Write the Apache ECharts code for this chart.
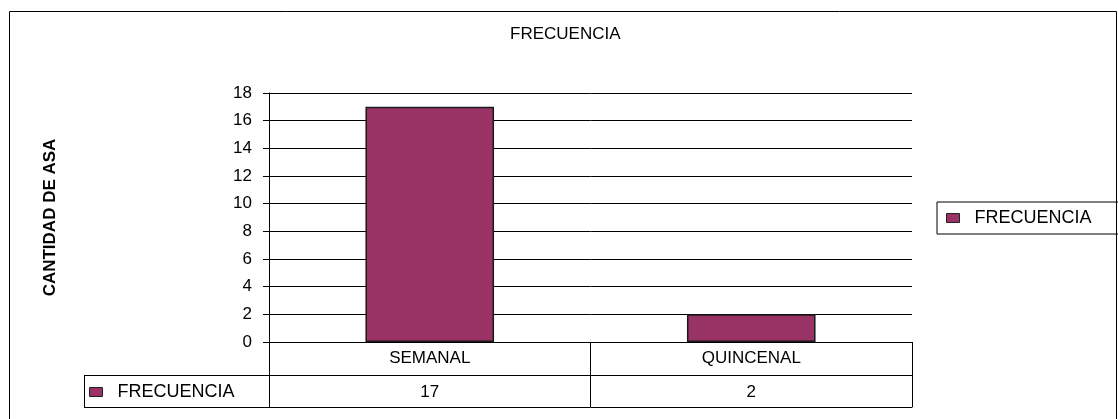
<!DOCTYPE html>
<html>
<head>
<meta charset="utf-8">
<script src="https://cdn.jsdelivr.net/npm/echarts@6/dist/echarts.min.js"></script>
<style>
  html, body { margin: 0; padding: 0; background: #fff; }
  #chart { width: 1118px; height: 419px; }
</style>
</head>
<body>
<div id="chart"></div>
<script>
const categories = ['SEMANAL', 'QUINCENAL']
const frecuencia = [17, 2]
const yTicks = { min: 0, max: 18, interval: 2 }
const seriesName = 'FRECUENCIA'
const titleText = 'FRECUENCIA'
const yName = 'CANTIDAD DE ASA'

const chart = echarts.init(document.getElementById('chart'))
const font = 'Liberation Sans, Arial, sans-serif'
const barColor = '#993366'

const option = {
  animation: false,
  backgroundColor: '#fff',
  textStyle: { fontFamily: font, color: '#000' },
  title: {
    text: titleText,
    left: 510,
    top: 26,
    padding: 0,
    textStyle: { fontSize: 17, fontWeight: 'normal', color: '#000', fontFamily: font }
  },
  legend: [
    {
      data: [seriesName],
      left: 937,
      top: 202,
      padding: [7, 40, 7, 9],
      borderColor: '#000',
      borderWidth: 1,
      icon: 'rect',
      itemWidth: 13,
      itemHeight: 9,
      itemStyle: { borderColor: '#222', borderWidth: 1 },
      formatter: '  {name}',
      textStyle: { fontSize: 18, color: '#000', fontFamily: font },
      selectedMode: false
    },
    {
      // legend key inside the data table
      data: [seriesName],
      left: 89,
      top: 383,
      padding: 0,
      icon: 'rect',
      itemWidth: 13,
      itemHeight: 9,
      itemStyle: { borderColor: '#222', borderWidth: 1 },
      formatter: '  {name}',
      textStyle: { fontSize: 18, color: '#000', fontFamily: font },
      selectedMode: false
    }
  ],
  grid: { left: 269, right: 206, top: 93, bottom: 77, containLabel: false },
  xAxis: [
    {
      type: 'category',
      data: categories,
      position: 'bottom',
      axisLine: { show: true, lineStyle: { color: '#000', width: 1 } },
      axisTick: { show: true, length: 65, lineStyle: { color: '#000', width: 1 } },
      axisLabel: { margin: 8, fontSize: 17, color: '#000', fontFamily: font },
      splitLine: { show: false }
    },
    {
      type: 'category',
      data: frecuencia.map(String),
      position: 'bottom',
      offset: 33,
      axisLine: { show: true, lineStyle: { color: '#000', width: 1 } },
      axisTick: { show: false },
      axisLabel: { margin: 9, fontSize: 17, color: '#000', fontFamily: font },
      splitLine: { show: false }
    },
    {
      type: 'category',
      data: categories,
      position: 'bottom',
      offset: 65,
      axisLine: { show: true, lineStyle: { color: '#000', width: 1 } },
      axisTick: { show: false },
      axisLabel: { show: false },
      splitLine: { show: false }
    }
  ],
  yAxis: {
    type: 'value',
    min: yTicks.min,
    max: yTicks.max,
    interval: yTicks.interval,
    name: yName,
    nameLocation: 'middle',
    nameRotate: 90,
    nameGap: 210,
    nameTextStyle: { fontSize: 17, fontWeight: 'bold', color: '#000', fontFamily: font },
    axisLine: { show: true, lineStyle: { color: '#000', width: 1 } },
    axisTick: { show: true, length: 6, lineStyle: { color: '#000', width: 1 } },
    axisLabel: { margin: 17, fontSize: 17, color: '#000', fontFamily: font },
    splitLine: { show: true, lineStyle: { color: '#000', width: 1 } }
  },
  series: [
    {
      name: seriesName,
      type: 'bar',
      data: frecuencia,
      barWidth: '40%',
      itemStyle: { color: barColor, borderColor: '#1a1a1a', borderWidth: 1.5 }
    }
  ],
  graphic: [
    // outer chart frame
    { type: 'rect', shape: { x: 9.5, y: 11.5, width: 1107, height: 420 }, style: { fill: 'none', stroke: '#000', lineWidth: 1 }, silent: true },
    // left column of the data table
    { type: 'line', shape: { x1: 84, y1: 375.5, x2: 269, y2: 375.5 }, style: { stroke: '#000', lineWidth: 1 }, silent: true },
    { type: 'line', shape: { x1: 84, y1: 407.5, x2: 269, y2: 407.5 }, style: { stroke: '#000', lineWidth: 1 }, silent: true },
    { type: 'line', shape: { x1: 84.5, y1: 375, x2: 84.5, y2: 408 }, style: { stroke: '#000', lineWidth: 1 }, silent: true }
  ]
}

chart.setOption(option)
window.addEventListener('resize', () => chart.resize())
</script>
</body>
</html>
